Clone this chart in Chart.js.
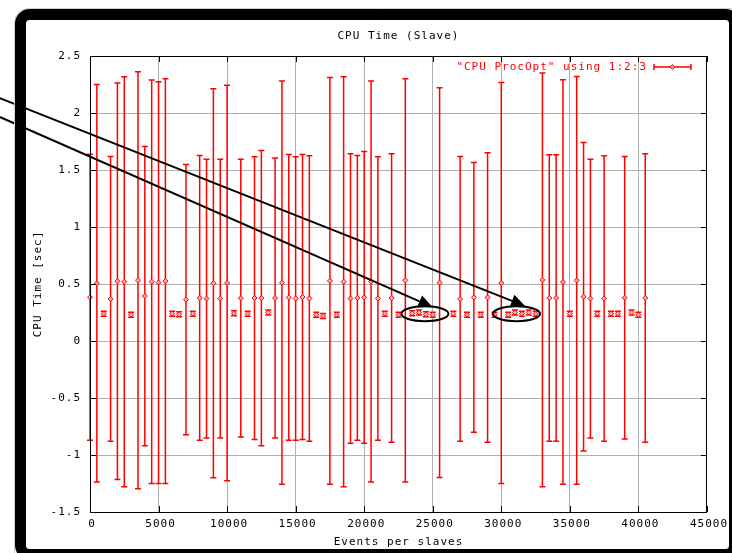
<!DOCTYPE html>
<html>
<head>
<meta charset="utf-8">
<title>CPU Time (Slave)</title>
<script src="https://cdn.jsdelivr.net/npm/chart.js@4.4.1/dist/chart.umd.min.js"></script>
<style>
  html, body { margin: 0; padding: 0; background: #fff; }
</style>
</head>
<body>
<canvas id="cpuChart" width="732" height="553"></canvas>
<script>
// gnuplot "using 1:2:3" -> x : y : ydelta
const events = [
  0, 500, 1000, 1500, 2000, 2500, 3000, 3500, 4000, 4500,
  5000, 5500, 6000, 6500, 7000, 7500, 8000, 8500, 9000, 9500,
  10000, 10500, 11000, 11500, 12000, 12500, 13000, 13500, 14000, 14500,
  15000, 15500, 16000, 16500, 17000, 17500, 18000, 18500, 19000, 19500,
  20000, 20500, 21000, 21500, 22000, 22500, 23000, 23500, 24000, 24500,
  25000, 25500, 26500, 27000, 27500, 28000, 28500, 29000, 29500, 30000,
  30500, 31000, 31500, 32000, 32500, 33000, 33500, 34000, 34500, 35000,
  35500, 36000, 36500, 37000, 37500, 38000, 38500, 39000, 39500, 40000,
  40500
];
const cpuTime = [
  0.384, 0.507, 0.240, 0.369, 0.524, 0.520, 0.230, 0.533, 0.394, 0.520,
  0.513, 0.526, 0.240, 0.234, 0.363, 0.240, 0.378, 0.372, 0.507, 0.372,
  0.509, 0.243, 0.376, 0.240, 0.377, 0.376, 0.250, 0.377, 0.512, 0.382,
  0.373, 0.386, 0.373, 0.230, 0.220, 0.527, 0.230, 0.520, 0.373, 0.378,
  0.382, 0.522, 0.373, 0.240, 0.377, 0.230, 0.532, 0.243, 0.250, 0.234,
  0.230, 0.512, 0.240, 0.369, 0.230, 0.382, 0.230, 0.382, 0.230, 0.509,
  0.230, 0.250, 0.240, 0.250, 0.240, 0.536, 0.377, 0.377, 0.517, 0.240,
  0.532, 0.388, 0.372, 0.240, 0.373, 0.240, 0.240, 0.379, 0.250, 0.230,
  0.377
];
const cpuErr = [
  1.254, 1.744, 0.022, 1.249, 1.740, 1.798, 0.022, 1.828, 1.312, 1.770,
  1.762, 1.775, 0.022, 0.022, 1.185, 0.022, 1.249, 1.223, 1.706, 1.223,
  1.734, 0.022, 1.218, 0.022, 1.240, 1.294, 0.022, 1.228, 1.769, 1.253,
  1.244, 1.249, 1.253, 0.022, 0.022, 1.784, 0.022, 1.798, 1.270, 1.249,
  1.280, 1.759, 1.244, 0.022, 1.266, 0.022, 1.769, 0.022, 0.022, 0.022,
  0.022, 1.710, 0.022, 1.249, 0.022, 1.183, 0.022, 1.270, 0.022, 1.758,
  0.022, 0.022, 0.022, 0.022, 0.022, 1.814, 1.257, 1.257, 1.774, 0.022,
  1.789, 1.353, 1.223, 0.022, 1.253, 0.022, 0.022, 1.239, 0.022, 0.022,
  1.266
];
const xTicks = [0, 5000, 10000, 15000, 20000, 25000, 30000, 35000, 40000, 45000];
const yTicks = [-1.5, -1, -0.5, 0, 0.5, 1, 1.5, 2, 2.5];

const MONO = 'DejaVu Sans Mono';
const RED = '#ff0000';

// gnuplot-like wide mono text
const spacingPlugin = {
  id: 'spacing',
  beforeUpdate(chart) { chart.ctx.letterSpacing = '1px'; },
  beforeDraw(chart) { chart.ctx.letterSpacing = '1px'; }
};

const errorBars = {
  id: 'errorBars',
  beforeDatasetsDraw(chart) {
    const {ctx, scales: {x, y}} = chart;
    ctx.save();
    ctx.strokeStyle = RED;
    ctx.lineWidth = 1.5;
    events.forEach((ev, i) => {
      const px = x.getPixelForValue(ev);
      const lo = y.getPixelForValue(cpuTime[i] - cpuErr[i]);
      const hi = y.getPixelForValue(cpuTime[i] + cpuErr[i]);
      ctx.beginPath();
      ctx.moveTo(px, lo); ctx.lineTo(px, hi);
      ctx.moveTo(px - 3, lo); ctx.lineTo(px + 3, lo);
      ctx.moveTo(px - 3, hi); ctx.lineTo(px + 3, hi);
      ctx.stroke();
    });
    ctx.restore();
  }
};

const decorations = {
  id: 'decorations',
  afterDraw(chart) {
    const {ctx, chartArea: a, scales: {x, y}} = chart;
    ctx.save();
    ctx.letterSpacing = '1px';

    // border + inward ticks
    ctx.strokeStyle = '#000';
    ctx.lineWidth = 1;
    ctx.strokeRect(a.left + 0.5, a.top + 0.5, a.right - a.left - 1, a.bottom - a.top);
    ctx.beginPath();
    xTicks.forEach(v => {
      const px = Math.round(x.getPixelForValue(v)) + 0.5;
      ctx.moveTo(px, a.bottom); ctx.lineTo(px, a.bottom - 6);
      ctx.moveTo(px, a.top); ctx.lineTo(px, a.top + 6);
    });
    yTicks.forEach(v => {
      const py = Math.round(y.getPixelForValue(v)) + 0.5;
      ctx.moveTo(a.left, py); ctx.lineTo(a.left + 6, py);
      ctx.moveTo(a.right, py); ctx.lineTo(a.right - 6, py);
    });
    ctx.stroke();

    // key, gnuplot style: text then sample
    const ky = a.top + 11;
    ctx.fillStyle = RED;
    ctx.font = '11px "' + MONO + '"';
    ctx.textAlign = 'right';
    ctx.textBaseline = 'middle';
    ctx.fillText(chart.data.datasets[0].label, a.right - 60, ky);
    const s0 = a.right - 53, s1 = a.right - 16;
    ctx.strokeStyle = RED;
    ctx.lineWidth = 1.5;
    ctx.beginPath();
    ctx.moveTo(s0, ky); ctx.lineTo(s1, ky);
    ctx.moveTo(s0, ky - 3); ctx.lineTo(s0, ky + 3);
    ctx.moveTo(s1, ky - 3); ctx.lineTo(s1, ky + 3);
    ctx.stroke();
    const mx = (s0 + s1) / 2;
    ctx.lineWidth = 1;
    ctx.fillStyle = '#ffb0b0';
    ctx.beginPath();
    ctx.moveTo(mx, ky - 2.5); ctx.lineTo(mx + 2.5, ky); ctx.lineTo(mx, ky + 2.5); ctx.lineTo(mx - 2.5, ky);
    ctx.closePath(); ctx.fill(); ctx.stroke();

    // hand-drawn notes: arrows to the two clusters of short bars
    const notes = [
      {from: [-6580, 1.965], to: [24970, 0.298], ring: [24430, 0.239]},
      {from: [-6580, 2.130], to: [31730, 0.307], ring: [31110, 0.239]}
    ];
    ctx.strokeStyle = '#000';
    ctx.fillStyle = '#000';
    ctx.lineWidth = 2;
    notes.forEach(n => {
      const x0 = x.getPixelForValue(n.from[0]), y0 = y.getPixelForValue(n.from[1]);
      const x1 = x.getPixelForValue(n.to[0]), y1 = y.getPixelForValue(n.to[1]);
      const ang = Math.atan2(y1 - y0, x1 - x0);
      const len = 14, half = 6.5;
      const bx = x1 - len * Math.cos(ang), by = y1 - len * Math.sin(ang);
      ctx.beginPath();
      ctx.moveTo(x0, y0); ctx.lineTo(bx, by);
      ctx.stroke();
      ctx.beginPath();
      ctx.moveTo(x1, y1);
      ctx.lineTo(bx + half * Math.sin(ang), by - half * Math.cos(ang));
      ctx.lineTo(bx - half * Math.sin(ang), by + half * Math.cos(ang));
      ctx.closePath();
      ctx.fill();
      const cx = x.getPixelForValue(n.ring[0]), cy = y.getPixelForValue(n.ring[1]);
      ctx.beginPath();
      ctx.ellipse(cx, cy, 23.5, 7.5, 0, 0, Math.PI * 2);
      ctx.stroke();
    });

    // window frame around the plot
    ctx.strokeStyle = '#d0d0d0';
    ctx.lineWidth = 1;
    ctx.beginPath();
    ctx.roundRect(14.5, 8.5, 740, 560, 14);
    ctx.stroke();
    ctx.strokeStyle = '#000';
    ctx.lineWidth = 11;
    ctx.beginPath();
    ctx.roundRect(20.5, 14.5, 714, 540, 9);
    ctx.stroke();
    ctx.restore();
  }
};

const ctx = document.getElementById('cpuChart').getContext('2d');
const cpuChart = new Chart(ctx, {
  type: 'scatter',
  data: {
    datasets: [{
      label: '"CPU ProcOpt" using 1:2:3',
      data: events.map((ev, i) => ({x: ev, y: cpuTime[i]})),
      pointStyle: 'rectRot',
      pointRadius: 2.5,
      pointBorderWidth: 1,
      borderColor: RED,
      backgroundColor: '#ffb0b0',
      showLine: false,
      clip: 8
    }]
  },
  options: {
    responsive: false,
    animation: false,
    devicePixelRatio: 1,
    layout: { padding: { left: 26, right: 22, top: 0, bottom: 0 } },
    plugins: {
      legend: { display: false },
      tooltip: { enabled: false },
      title: {
        display: true,
        text: 'CPU Time (Slave)',
        fullSize: false,
        color: '#000',
        font: { family: MONO, size: 11, weight: 'normal' },
        padding: { top: 30, bottom: 12.8 }
      }
    },
    scales: {
      x: {
        type: 'linear',
        min: 0,
        max: 45000,
        afterBuildTicks: s => { s.ticks = xTicks.map(v => ({value: v})); },
        afterFit: s => { s.height = 41; },
        ticks: {
          color: '#000',
          font: { family: MONO, size: 11 },
          padding: 6,
          labelOffset: 2,
          maxRotation: 0,
          callback: v => String(v)
        },
        grid: { color: '#b0b0b0', drawTicks: false },
        border: { color: '#000' },
        title: {
          display: true,
          text: 'Events per slaves',
          color: '#000',
          font: { family: MONO, size: 11 },
          padding: { top: 0, bottom: 4.4 }
        }
      },
      y: {
        type: 'linear',
        min: -1.5,
        max: 2.5,
        afterBuildTicks: s => { s.ticks = yTicks.map(v => ({value: v})); },
        afterFit: s => { s.width = 64; },
        ticks: {
          color: '#000',
          font: { family: MONO, size: 11 },
          padding: 9,
          callback: v => String(v)
        },
        grid: { color: '#b0b0b0', drawTicks: false },
        border: { color: '#000' },
        title: {
          display: true,
          text: 'CPU Time [sec]',
          color: '#000',
          font: { family: MONO, size: 11 },
          padding: { top: 5.4, bottom: 0 }
        }
      }
    }
  },
  plugins: [spacingPlugin, errorBars, decorations]
});
</script>
</body>
</html>
